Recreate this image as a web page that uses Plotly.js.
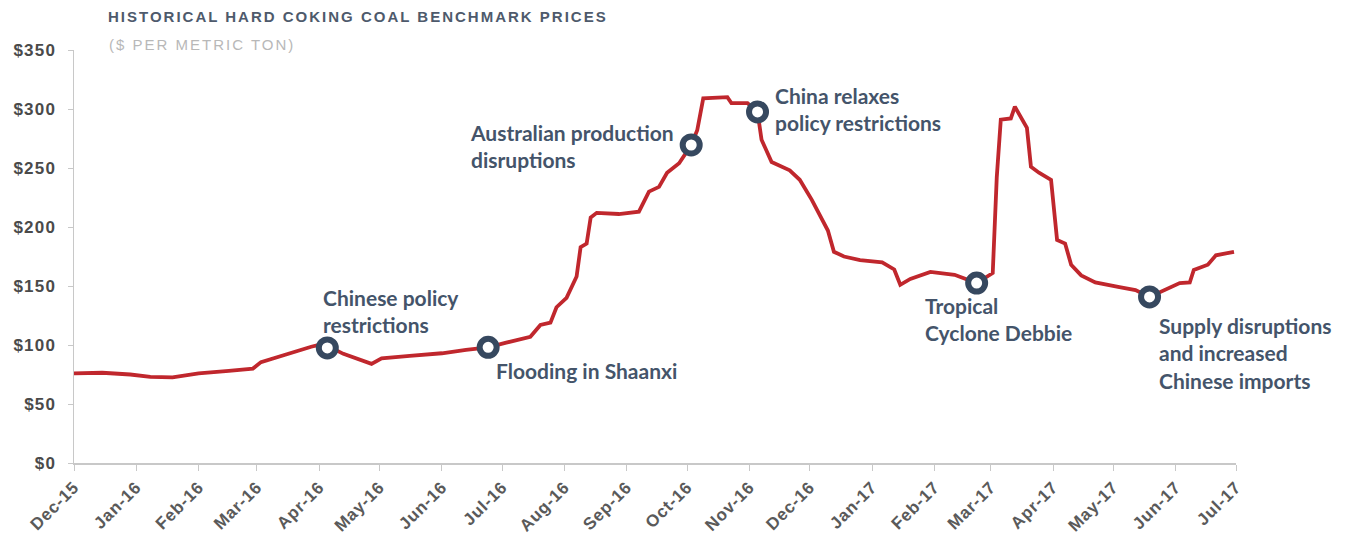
<!DOCTYPE html>
<html>
<head>
<meta charset="utf-8">
<script src="https://cdn.plot.ly/plotly-3.0.1.min.js"></script>
<style>
html,body{margin:0;padding:0;background:#fff;}
#chart{width:1347px;height:541px;}
.gtitle{letter-spacing:2px;}
.annotation[data-index="6"] text{letter-spacing:2px;}
.ytick text{letter-spacing:1.2px;}
.xtick text{letter-spacing:0.8px;}
</style>
</head>
<body>
<div id="chart"></div>
<script>
// Price series (approximate)
const dates = [
  '2015-12-01','2015-12-15','2015-12-29','2016-01-08','2016-01-19','2016-02-01','2016-02-16','2016-02-28',
  '2016-03-03','2016-03-17','2016-03-28','2016-04-03','2016-04-13','2016-04-27','2016-05-02','2016-05-16',
  '2016-06-01','2016-06-13','2016-06-24','2016-07-03','2016-07-15','2016-07-20','2016-07-25','2016-07-28',
  '2016-08-02','2016-08-07','2016-08-09','2016-08-12','2016-08-14','2016-08-17','2016-08-28','2016-09-07',
  '2016-09-12','2016-09-17','2016-09-21','2016-09-27','2016-10-03','2016-10-06','2016-10-09','2016-10-21',
  '2016-10-23','2016-10-31','2016-11-05','2016-11-07','2016-11-12','2016-11-21','2016-11-26','2016-12-02',
  '2016-12-06','2016-12-10','2016-12-13','2016-12-18','2016-12-26','2017-01-06','2017-01-12','2017-01-15',
  '2017-01-20','2017-01-30','2017-02-11','2017-02-22','2017-03-02','2017-03-04','2017-03-06','2017-03-11',
  '2017-03-13','2017-03-17','2017-03-19','2017-03-21','2017-03-25','2017-03-31','2017-04-03','2017-04-07',
  '2017-04-10','2017-04-15','2017-04-22','2017-05-04','2017-05-12','2017-05-19','2017-05-27','2017-06-03',
  '2017-06-08','2017-06-10','2017-06-17','2017-06-21','2017-06-30'
];
const prices = [
  76, 76.5, 75, 73, 72.5, 76, 78, 80,
  85.5, 93, 98.5, 101, 92.5, 84, 88.7, 90.7,
  93, 95.8, 98, 102, 107, 117, 119, 132,
  140, 158, 183, 186, 208, 212, 211, 213,
  230, 234, 246, 254, 269.5, 282, 309, 310,
  305, 305, 297.5, 274, 255, 248, 240, 223,
  210, 197, 179, 175, 172, 170, 164, 151,
  156, 162, 159.5, 152.5, 161, 242, 291, 292,
  302, 289, 284, 251, 246, 240, 189, 186,
  168, 159, 153, 149, 146.6, 140.7, 146.6, 152.5,
  153, 163.6, 168, 176, 179
];

// Highlighted events
const eventDates  = ['2016-04-05','2016-06-24','2016-10-03','2016-11-05','2017-02-22','2017-05-19'];
const eventPrices = [97.5, 98, 269.5, 297.5, 152.5, 140.7];
const eventLabels = [
  'Chinese policy<br>restrictions',
  'Flooding in Shaanxi',
  'Australian production<br>disruptions',
  'China relaxes<br>policy restrictions',
  'Tropical<br>Cyclone Debbie',
  'Supply disruptions<br>and increased<br>Chinese imports'
];

// Axis ticks
const tickDates = ['2015-12-01','2016-01-01','2016-02-01','2016-03-01','2016-04-01','2016-05-01','2016-06-01',
  '2016-07-01','2016-08-01','2016-09-01','2016-10-01','2016-11-01','2016-12-01','2017-01-01','2017-02-01',
  '2017-03-01','2017-04-01','2017-05-01','2017-06-01','2017-07-01'];
const tickLabels = ['Dec-15','Jan-16','Feb-16','Mar-16','Apr-16','May-16','Jun-16','Jul-16','Aug-16','Sep-16',
  'Oct-16','Nov-16','Dec-16','Jan-17','Feb-17','Mar-17','Apr-17','May-17','Jun-17','Jul-17'];
const yTicks = [0,50,100,150,200,250,300,350];
const yTickLabels = ['$0','$50','$100','$150','$200','$250','$300','$350'];

const labelColor = '#44546a';
// label placement relative to event point (pixels)
const labelPos = [
  {xa:'left',  xs:-6,  ys:37},
  {xa:'left',  xs:6,   ys:-23},
  {xa:'right', xs:-15, ys:-1},
  {xa:'left',  xs:15,  ys:3},
  {xa:'left',  xs:-54, ys:-36},
  {xa:'left',  xs:7,   ys:-56}
];

const annotations = eventLabels.map((t,i)=>({
  x: eventDates[i], y: eventPrices[i], xref:'x', yref:'y', text:t, showarrow:false,
  xanchor: labelPos[i].xa, yanchor:'middle', align:'left',
  xshift: labelPos[i].xs, yshift: labelPos[i].ys,
  font:{family:'Lato, "Open Sans", sans-serif', size:21, color:labelColor, weight:700}
}));
annotations.push({
  xref:'paper', yref:'paper', x:(108-74)/1162, y:(463-44.5)/413, xanchor:'left', yanchor:'middle',
  xshift:17,
  text:'($ PER METRIC TON)', showarrow:false,
  font:{family:'Liberation Sans, Arial, sans-serif', size:15, color:'#b8b8b8'}
});

const traces = [
  {x:dates, y:prices, type:'scatter', mode:'lines',
   line:{color:'#c0272d', width:3.8, shape:'linear'}, hoverinfo:'skip'},
  {x:eventDates, y:eventPrices, type:'scatter', mode:'markers',
   marker:{symbol:'circle', size:17, color:'#ffffff', line:{color:'#36485f', width:6}}, hoverinfo:'skip'}
];

const layout = {
  width:1347, height:541,
  margin:{l:74, r:111, t:50, b:78},
  paper_bgcolor:'#ffffff', plot_bgcolor:'#ffffff',
  showlegend:false,
  title:{text:'HISTORICAL HARD COKING COAL BENCHMARK PRICES',
    x:108/1347, xanchor:'left', y:1-17/541, yanchor:'middle',
    font:{family:'Liberation Sans, Arial, sans-serif', size:15, color:'#4e5a6c', weight:700}},
  xaxis:{type:'date', range:['2015-12-01','2017-07-01'], tickvals:tickDates, ticktext:tickLabels,
    tickangle:-45, showgrid:false, zeroline:false, showline:true, linecolor:'#c8c8c8', linewidth:1.5,
    ticks:'outside', ticklen:6, tickcolor:'#c8c8c8', tickwidth:1,
    tickfont:{family:'Liberation Sans, Arial, sans-serif', size:17, color:'#5a5a5a', weight:700}},
  yaxis:{range:[0,350], tickvals:yTicks, ticktext:yTickLabels, showgrid:false, zeroline:false,
    showline:true, linecolor:'#c8c8c8', linewidth:1.5, ticks:'outside', ticklen:5, tickcolor:'#c8c8c8',
    ticklabelstandoff:8,
    tickfont:{family:'Liberation Sans, Arial, sans-serif', size:17, color:'#4a4a4a', weight:700}},
  annotations: annotations
};

Plotly.newPlot('chart', traces, layout, {staticPlot:true, displayModeBar:false});
</script>
</body>
</html>
